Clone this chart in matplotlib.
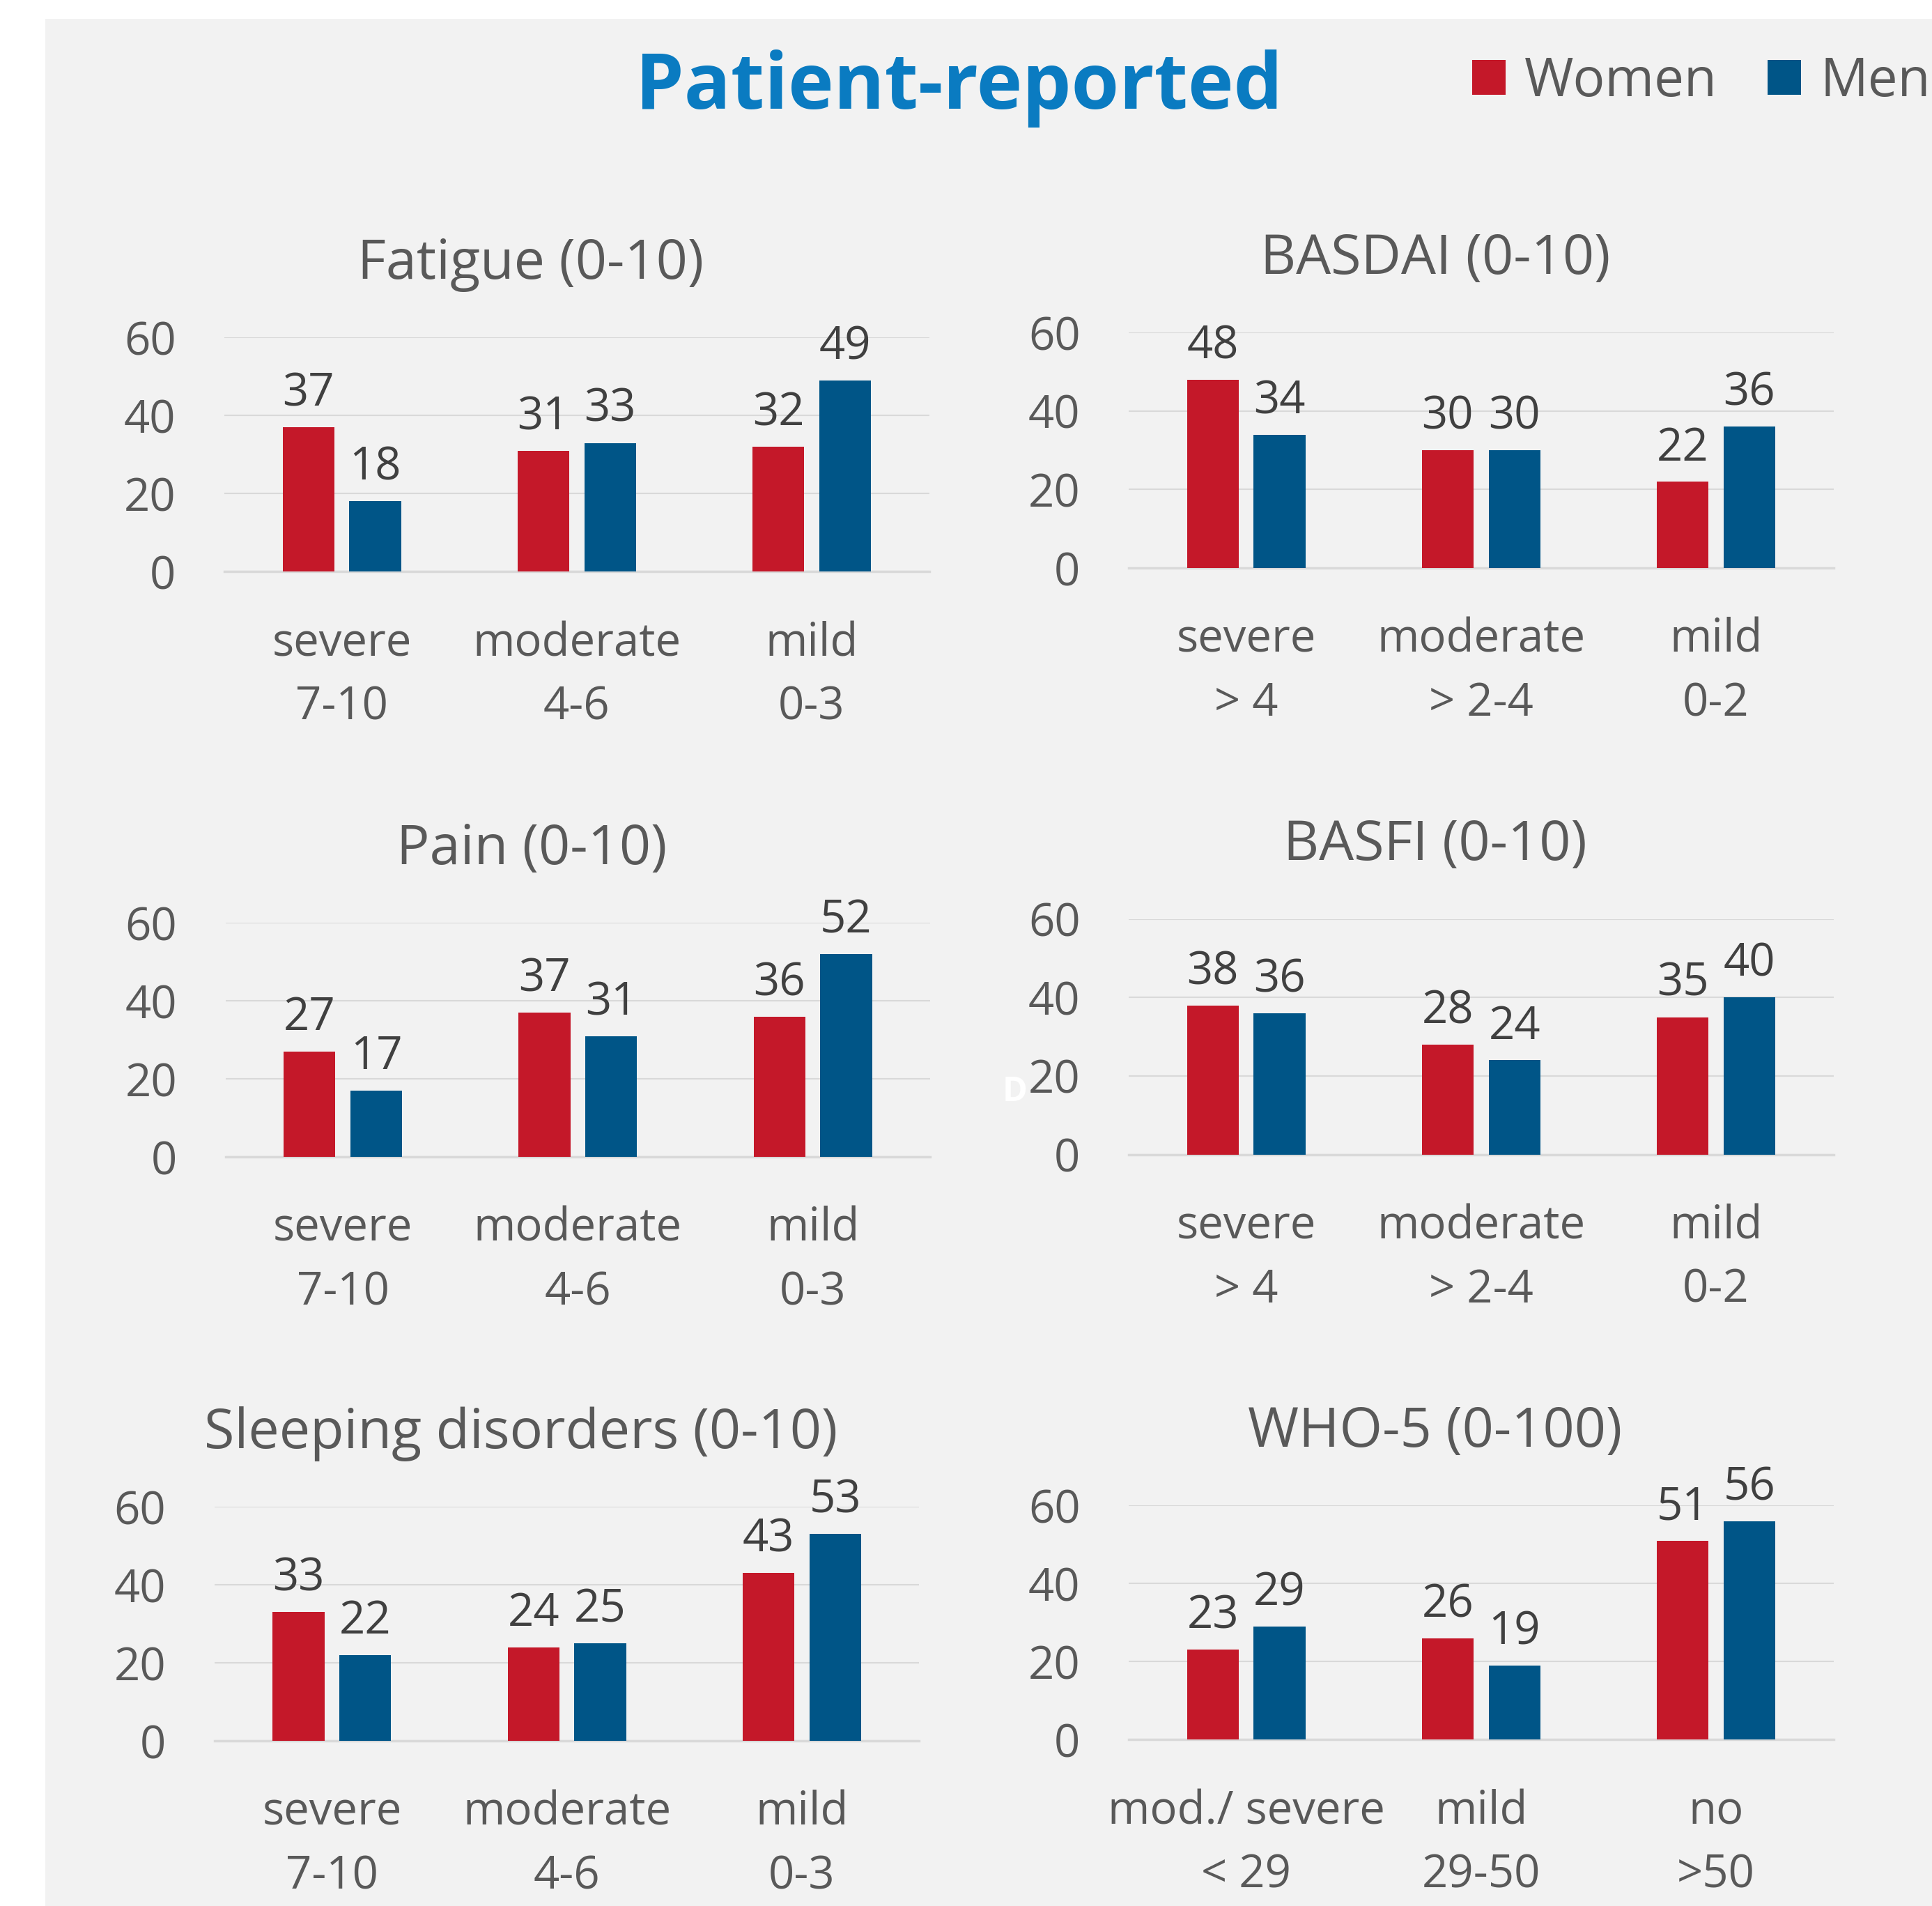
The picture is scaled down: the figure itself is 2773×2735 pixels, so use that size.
import numpy as np
import matplotlib.pyplot as plt
from matplotlib.patches import Rectangle

plt.rcParams['font.family'] = ['Open Sans', 'DejaVu Sans']

# data (% of patients)
titles = ["Fatigue (0-10)", "BASDAI (0-10)", "Pain (0-10)",
          "BASFI (0-10)", "Sleeping disorders (0-10)", "WHO-5 (0-100)"]
nrs_cats = ["severe\n7-10", "moderate\n4-6", "mild\n0-3"]
bas_cats = ["severe\n> 4", "moderate\n> 2-4", "mild\n0-2"]
who_cats = ["mod./ severe\n< 29", "mild\n29-50", "no\n>50"]
categories = [nrs_cats, bas_cats, nrs_cats, bas_cats, nrs_cats, who_cats]

women_fatigue = [37, 31, 32]
men_fatigue = [18, 33, 49]
women_basdai = [48, 30, 22]
men_basdai = [34, 30, 36]
women_pain = [27, 37, 36]
men_pain = [17, 31, 52]
women_basfi = [38, 28, 35]
men_basfi = [36, 24, 40]
women_sleep = [33, 24, 43]
men_sleep = [22, 25, 53]
women_who = [23, 26, 51]
men_who = [29, 19, 56]

women = [women_fatigue, women_basdai, women_pain, women_basfi, women_sleep, women_who]
men = [men_fatigue, men_basdai, men_pain, men_basfi, men_sleep, men_who]

RED = "#c41829"
BLUE = "#005587"
TICK = "#595959"
VAL = "#404040"
GRID = "#d9d9d9"

fig = plt.figure(figsize=(27.73, 27.35), dpi=100, facecolor="white")
bg = Rectangle((0.0234, 0), 1 - 0.0234, 0.9903, transform=fig.transFigure,
               facecolor="#f2f2f2", edgecolor="none", zorder=-10)
fig.patches.append(bg)

# axes boxes [left, bottom, width, height] in figure fractions
boxes = [
    [0.1161, 0.7001, 0.3648, 0.1228],
    [0.5842, 0.7020, 0.3648, 0.1235],
    [0.1167, 0.3930, 0.3648, 0.1228],
    [0.5842, 0.3943, 0.3648, 0.1235],
    [0.1110, 0.0866, 0.3648, 0.1228],
    [0.5842, 0.0873, 0.3648, 0.1228],
]

x = np.arange(3)
w = 0.22
off = 0.142
for i, box in enumerate(boxes):
    ax = fig.add_axes(box)
    ax.patch.set_alpha(0)
    bw = ax.bar(x - off, women[i], w, color=RED, zorder=3, label="Women")
    bm = ax.bar(x + off, men[i], w, color=BLUE, zorder=3, label="Men")
    for bars in (bw, bm):
        for b in bars:
            ax.annotate(f"{int(b.get_height())}", (b.get_x() + b.get_width() / 2, b.get_height()),
                        xytext=(0, 22), textcoords="offset points", ha="center", va="baseline",
                        fontsize=47, color=VAL, annotation_clip=False)
    ax.set_xlim(-0.5, 2.5)
    ax.set_ylim(0, 60)
    ax.set_yticks([0, 20, 40, 60])
    ax.set_xticks(x)
    ax.set_xticklabels(categories[i], linespacing=1.51)
    ax.tick_params(axis="y", length=0, pad=50, labelsize=47, labelcolor=TICK)
    ax.tick_params(axis="x", length=0, pad=51, labelsize=47, labelcolor=TICK)
    ax.grid(axis="y", color=GRID, lw=1.5, zorder=0)
    for s in ["top", "right", "left"]:
        ax.spines[s].set_visible(False)
    ax.spines["bottom"].set_color(GRID)
    ax.spines["bottom"].set_linewidth(2.5)
    ax.set_title(titles[i], fontsize=57, color=TICK, pad=61, x=0.435)
    if i == 0:
        handles = [bw, bm]

fig.text(0.4965, 0.943, "Patient-reported", ha="center", va="baseline",
         fontsize=80, fontweight="bold", color="#0a7bc1")
fig.legend(handles, ["Women", "Men"], loc="center left", bbox_to_anchor=(0.762, 0.957),
           ncol=2, frameon=False, fontsize=55, labelcolor=TICK, handlelength=0.63,
           handleheight=0.63, handletextpad=0.35, columnspacing=0.95,
           borderpad=0, borderaxespad=0)
fig.text(0.5254, 0.4267, "D", ha="center", va="center", fontsize=35,
         fontweight="bold", color="white")

fig.savefig("out.png", dpi=100, facecolor=fig.get_facecolor())
